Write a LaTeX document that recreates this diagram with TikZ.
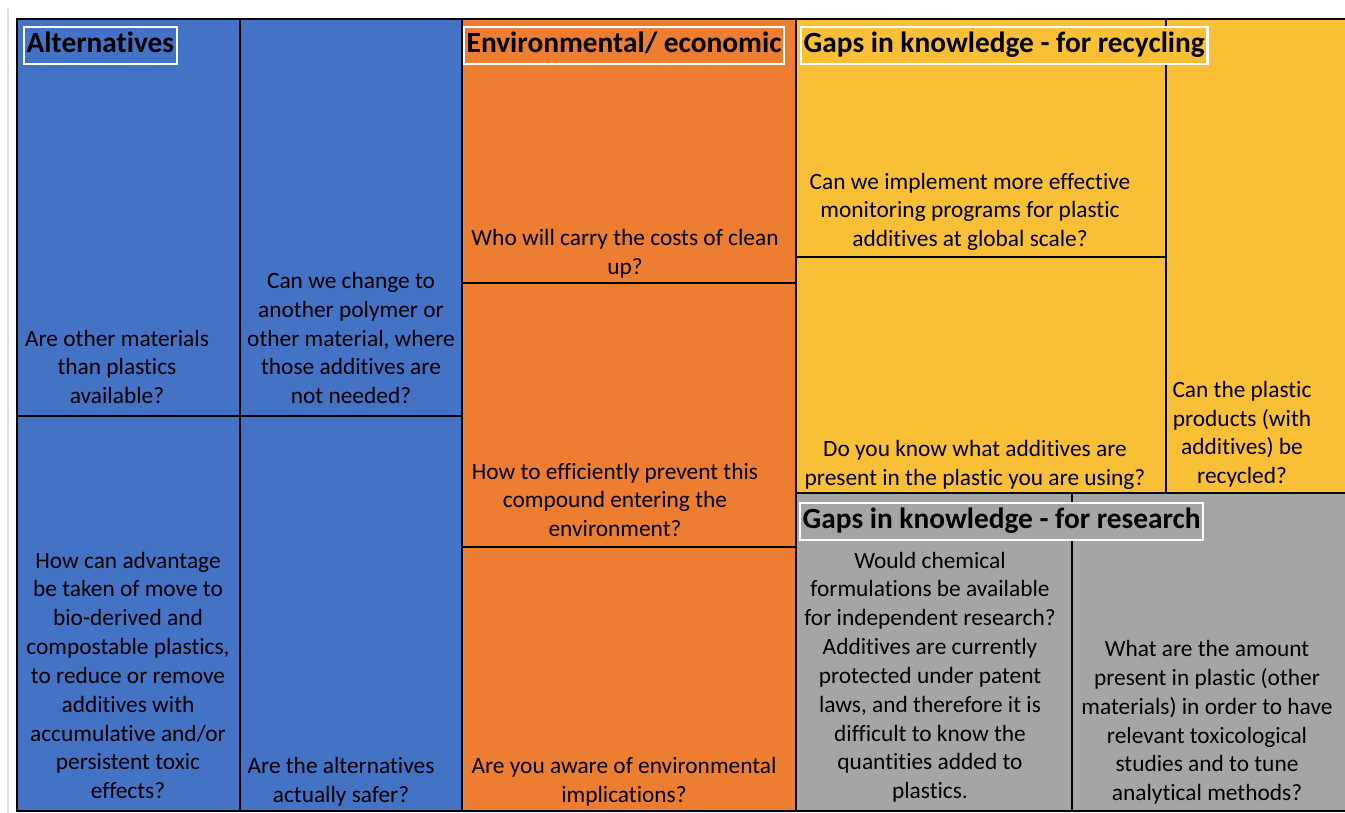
\documentclass[tikz,border=0pt]{standalone}
\usepackage{fontspec}
\setmainfont{Carlito}[Ligatures=NoCommon]
\begin{document}
\begin{tikzpicture}[x=0.02cm, y=-0.02cm,
    qtext/.style={anchor=south, align=center, inner sep=0pt, text depth=0pt,
        font=\fontsize{13.3}{16.4}\selectfont},
    titlebox/.style={anchor=base west, draw=white, line width=1.2pt,
        inner xsep=1.5pt, inner ysep=2.5pt, text height=12.3pt, text depth=3.7pt,
        font=\fontsize{16.7}{18}\selectfont\bfseries}]

% --- colors ---
\definecolor{altcol}{HTML}{4472C4}
\definecolor{envcol}{HTML}{ED7D31}
\definecolor{reccol}{HTML}{F8BF37}
\definecolor{rescol}{HTML}{A5A5A5}

% --- canvas ---
\useasboundingbox (0,0) rectangle (1345,813);
\fill[white] (0,0) rectangle (1345,813);
\draw[black!12, line width=0.8pt] (8,8) -- (8,813);

% --- category blocks ---
\fill[altcol] (17,19)  rectangle (462,811);
\fill[envcol] (462,19) rectangle (796,811);
\fill[reccol] (796,19) rectangle (1345,493);
\fill[rescol] (796,493) rectangle (1345,811);

% --- cell borders ---
\begin{scope}[line width=1.2pt, black]
    \draw (1345,19) -- (17,19) -- (17,811) -- (1345,811);
    \foreach \x in {240,462,796}
        \draw (\x,19) -- (\x,811);
    \draw (17,416) -- (462,416);
    \foreach \y in {283,547}
        \draw (462,\y) -- (796,\y);
    \draw (796,493) -- (1345,493);
    \draw (1166,19) -- (1166,493);
    \draw (796,257) -- (1166,257);
    \draw (1072,493) -- (1072,811);
\end{scope}

% --- questions: alternatives ---
\node[qtext] (alt1) at (117,404) {Are other materials\\than plastics\\available?};
\node[qtext] (alt2) at (351,404) {Can we change to\\another polymer or\\other material, where\\those additives are\\not needed?};
\node[qtext] (alt3) at (128,799) {How can advantage\\be taken of move to\\bio-derived and\\compostable plastics,\\to reduce or remove\\additives with\\accumulative and/or\\persistent toxic\\effects?};
\node[qtext] (alt4) at (341,803) {Are the alternatives\\actually safer?};

% --- questions: environmental / economic ---
\node[qtext] (env1) at (625,275) {Who will carry the costs of clean\\up?};
\node[qtext] (env2) at (615,537) {How to efficiently prevent this\\compound entering the\\environment?};
\node[qtext] (env3) at (624,803) {Are you aware of environmental\\implications?};

% --- questions: recycling ---
\node[qtext] (rec1) at (970,247) {Can we implement more effective\\monitoring programs for plastic\\additives at global scale?};
\node[qtext] (rec2) at (975,486) {Do you know what additives are\\present in the plastic you are using?};
\node[qtext] (rec3) at (1242,484) {Can the plastic\\products (with\\additives) be\\recycled?};

% --- questions: research ---
\node[qtext] (res1) at (930,799) {Would chemical\\formulations be available\\for independent research?\\Additives are currently\\protected under patent\\laws, and therefore it is\\difficult to know the\\quantities added to\\plastics.};
\node[qtext] (res2) at (1207,801) {What are the amount\\present in plastic (other\\materials) in order to have\\relevant toxicological\\studies and to tune\\analytical methods?};

% --- category titles ---
\node[titlebox, fill=altcol] (altT) at (23,53)  {Alternatives};
\node[titlebox, fill=envcol] (envT) at (463,53) {Environmental/ economic};
\node[titlebox, fill=reccol] (recT) at (800,53) {Gaps in knowledge - for recycling};
\node[titlebox, fill=rescol] (resT) at (799,529) {Gaps in knowledge - for research};

\end{tikzpicture}
\end{document}
